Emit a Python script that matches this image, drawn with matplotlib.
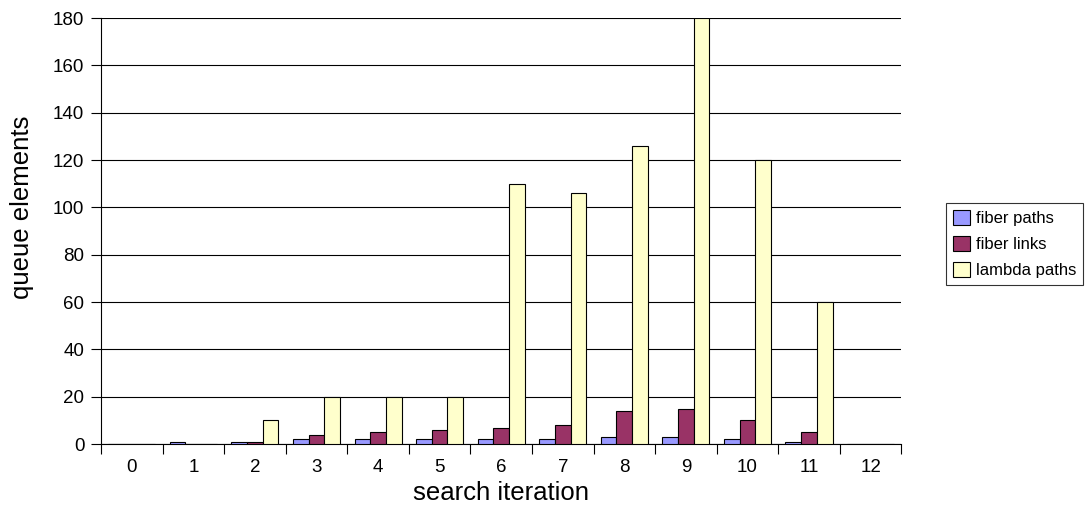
import numpy as np
import matplotlib.pyplot as plt

# 数据: 每次搜索迭代的队列元素数量
iterations = list(range(13))
fiber_paths = [0, 1, 1, 2, 2, 2, 2, 2, 3, 3, 2, 1, 0]
fiber_links = [0, 0, 1, 4, 5, 6, 7, 8, 14, 15, 10, 5, 0]
lambda_paths = [0, 0, 10, 20, 20, 20, 110, 106, 126, 180, 120, 60, 0]

plt.rcParams['font.family'] = ['Liberation Sans', 'DejaVu Sans']

fig = plt.figure(figsize=(10.86, 5.17), dpi=100)
ax = fig.add_axes([0.093, 0.141, 0.737, 0.824])

x = np.arange(len(iterations))
w = 0.255
ax.bar(x - w, fiber_paths, w, color='#9999FF', edgecolor='black', linewidth=0.8, label='fiber paths', zorder=3)
ax.bar(x, fiber_links, w, color='#993366', edgecolor='black', linewidth=0.8, label='fiber links', zorder=3)
ax.bar(x + w, lambda_paths, w, color='#FFFFCC', edgecolor='black', linewidth=0.8, label='lambda paths', zorder=3)

# 坐标轴设置
ax.set_xlim(-0.5, 12.5)
ax.set_ylim(0, 180)
ax.set_yticks(range(0, 181, 20))
ax.yaxis.grid(True, color='black', linewidth=0.8, zorder=0)
ax.set_xticks(np.arange(-0.5, 13, 1))
ax.set_xticklabels([])
ax.set_xticks(x, minor=True)
ax.set_xticklabels([str(i) for i in iterations], minor=True, fontsize=13.5)
ax.tick_params(axis='x', which='major', length=7.5, width=0.8, direction='out')
ax.tick_params(axis='x', which='minor', length=0, pad=11)
ax.tick_params(axis='y', length=7, width=0.8, labelsize=13.5, pad=5)
for s in ['top', 'right']:
    ax.spines[s].set_visible(False)
ax.spines['left'].set_linewidth(0.8)
ax.spines['bottom'].set_linewidth(0.8)

ax.set_xlabel('search iteration', fontsize=18.5, labelpad=3)
ax.set_ylabel('queue elements', fontsize=18.5)
ax.yaxis.set_label_coords(-0.084, 0.555)

leg = ax.legend(loc='center left', bbox_to_anchor=(1.056, 0.47), fontsize=12,
                frameon=True, fancybox=False, edgecolor='black',
                handlelength=1.0, handleheight=1.0, handletextpad=0.4,
                borderpad=0.4, borderaxespad=0, labelspacing=0.6)
leg.get_frame().set_linewidth(0.8)

plt.savefig('out.png', dpi=100)
